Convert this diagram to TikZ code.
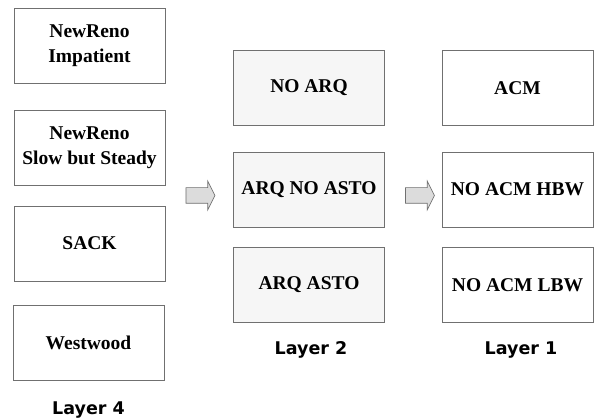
\documentclass[tikz,border=0pt]{standalone}
\usepackage{fontspec}
\setmainfont{Liberation Serif}
\newfontfamily\layerfont{DejaVu Sans}
\usetikzlibrary{positioning,shapes.arrows}
\definecolor{boxline}{HTML}{707070}
\definecolor{arrowfill}{HTML}{DCDCDC}
\definecolor{midfill}{HTML}{F6F6F6}
\begin{document}
\begin{tikzpicture}[
					%Environment config
					x=1pt,y=1pt,
					font=\bfseries\fontsize{19.5}{25}\selectfont,
					%Environment styles
					LayerBox/.style={
						draw=boxline,
						line width=0.9pt,
						fill=white,
						minimum width=151pt,
						minimum height=75pt,
						align=center,
						inner sep=0pt
					},
					MidBox/.style={LayerBox,fill=midfill},
					StepArrow/.style={
						single arrow,
						draw=boxline,
						fill=arrowfill,
						line width=0.7pt,
						minimum height=29pt,
						inner sep=7.5pt,
						single arrow head extend=6.5pt,
						single arrow tip angle=127
					},
					LayerTitle/.style={font=\layerfont\bfseries\fontsize{17.5}{19}\selectfont}
					]
					\useasboundingbox (0,0) rectangle (595,-419);
					\path
					(89.5,-45.5) node[LayerBox](IMP){NewReno\\Impatient}
					++ (0,-102) node[LayerBox](SBS){NewReno\\Slow but Steady}
					++ (0,-96) node[LayerBox](SACK){SACK}
					++ (-1,-99.5) node[LayerBox](WW){Westwood}
					(WW.south) ++ (0,-29) node[LayerTitle](L4){Layer 4}
					(309,-88) node[MidBox](NOARQ){NO ARQ}
					++ (0,-101.5) node[MidBox](ARQN){ARQ NO ASTO}
					++ (0,-95.5) node[MidBox](ARQA){ARQ ASTO}
					(ARQA.south) ++ (2,-27) node[LayerTitle](L2){Layer 2}
					(517.5,-88) node[LayerBox](ACM){ACM}
					++ (0,-101.5) node[LayerBox](HBW){NO ACM HBW}
					++ (0,-95.5) node[LayerBox](LBW){NO ACM LBW}
					(LBW.south) ++ (3.5,-27) node[LayerTitle](L1){Layer 1}
					(198.5,-195.5) node[StepArrow](A1){}
					(418,-195.5) node[StepArrow](A2){};
				\end{tikzpicture}
\end{document}
